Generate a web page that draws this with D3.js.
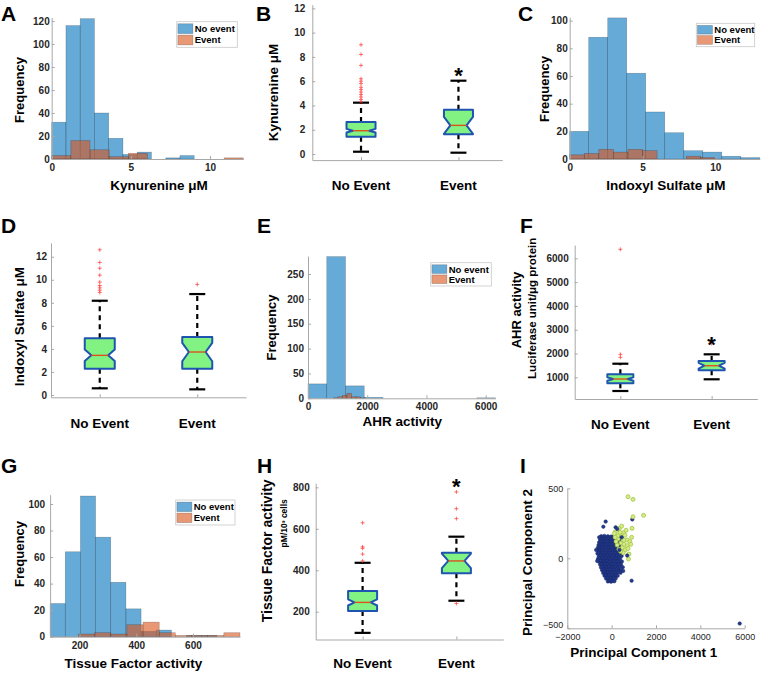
<!DOCTYPE html>
<html><head><meta charset="utf-8">
<script src="https://cdn.jsdelivr.net/npm/d3@7"></script>
<style>body{margin:0;background:#fff}svg{display:block}text{font-family:"Liberation Sans",Arial,sans-serif}</style>
</head><body><svg id="c" width="762" height="673"></svg>
<script>
// ---------------- DATA ----------------
const groups = ["No Event", "Event"];
const legendLabels = ["No event", "Event"];

// A: Kynurenine histogram
const kynNoEdges = [0,0.9,1.8,2.7,3.6,4.5,5.4,6.3,7.2,8.1,9.0];
const kynNoCounts = [32,116,122,40,18,4,6,0,1,3];
const kynEvEdges = [0,1.21,2.42,3.63,4.84,6.05,7.26,8.47,9.68,10.89,12.1];
const kynEvCounts = [3,16,8,2,5,0,0,0,0,1];
const kynXTicks = [0,5,10];
const kynYTicks = [0,20,40,60,80,100,120];

// C: Indoxyl sulfate histogram
const isNoEdges = [0,1.305,2.61,3.915,5.22,6.525,7.83,9.135,10.44,11.745,13.05];
const isNoCounts = [20,88,102,62,34,19,6,5,2,1];
const isEvEdges = [0,1,2,3,4,5,6,7,8,9,10];
const isEvCounts = [3,4,7,5,7,6,0,0,2,1];
const isXTicks = [0,5,10];
const isYTicks = [0,20,40,60,80,100];

// E: AHR histogram
const ahrNoEdges = [0,633,1266,1899,2532,3165,3798,4431,5064,5697,6330];
const ahrNoCounts = [29,285,25,2,0,0,0,0,0,1];
const ahrEvEdges = [855,1008,1161,1314,1467,1620,1773,1926];
const ahrEvCounts = [1,3,6,10,3,3,1];
const ahrXTicks = [0,2000,4000,6000];
const ahrYTicks = [0,50,100,150,200,250];

// G: Tissue factor histogram
const tfNoEdges = [96,149.5,203,256.5,310,363.5,417,470.5,524,577.5,631,684.5,738];
const tfNoCounts = [25,64,106,75,41,21,4,5,0,1,1,0];
const tfEvEdges = [196,253,310,367,424,481,538,595,652,709,766];
const tfEvCounts = [2,3,2,9,11,3,1,1,1,3];
const tfXTicks = [200,400,600];
const tfYTicks = [0,20,40,60,80,100];

// B: Kynurenine box stats [lowWhisker, Q1, median, Q3, highWhisker, notchHalf]
const kynBoxNo = [0.19,1.43,1.92,2.64,4.23,0.15];
const kynBoxEv = [0.11,1.62,2.36,3.65,6.04,0.7];
const kynOutNo = [4.3,4.5,4.7,4.9,5.1,5.3,5.5,5.8,6.0,6.2,7.3,8.2,9.0];
const kynOutEv = [];
const kynStar = 6.86;
const kynBoxTicks = [0,2,4,6,8,10,12];

// D: Indoxyl sulfate box stats
const isBoxNo = [0.58,2.28,3.44,4.92,8.18,0.5];
const isBoxEv = [0.49,2.28,3.73,5.03,8.76,0.8];
const isOutNo = [8.9,9.1,9.3,9.5,9.8,10.4,11.0,11.5,12.6];
const isOutEv = [9.6];
const isBoxTicks = [0,2,4,6,8,10,12];

// F: AHR box stats
const ahrBoxNo = [424,748,928,1126,1571,70];
const ahrBoxEv = [916,1294,1487,1685,1966,120];
const ahrOutNo = [1840,1966,6378];
const ahrOutEv = [2420];
const ahrStar = 2570;
const ahrBoxTicks = [1000,2000,3000,4000,5000,6000];

// H: Tissue factor box stats
const tfBoxNo = [98,203,245,300,436,15];
const tfBoxEv = [253,385,445,485,562,35];
const tfOutNo = [445,478,506,513,629];
const tfOutEv = [240,649,697,778];
const tfStar = 827;
const tfBoxTicks = [200,400,600,800];

// I: PCA scatter
const pcaNoEvent = [
[-470,158],[-400,152],[-330,160],[-250,150],[-170,157],[-90,148],[-20,155],[60,150],
[-520,136],[-440,140],[-370,132],[-300,142],[-220,134],[-150,139],[-70,130],[10,137],[90,133],[170,140],[260,128],
[-560,115],[-490,120],[-420,112],[-340,119],[-270,114],[-200,121],[-120,110],[-50,117],[30,113],[110,120],[190,112],[300,116],[400,110],
[-590,95],[-510,100],[-440,93],[-370,99],[-300,94],[-230,101],[-160,92],[-80,98],[0,95],[80,101],[160,93],[240,97],[330,92],
[-620,75],[-540,80],[-460,73],[-390,79],[-320,74],[-250,81],[-170,72],[-100,78],[-30,75],[50,80],[130,73],[210,79],[300,74],[390,77],
[-600,55],[-520,60],[-450,53],[-380,59],[-300,54],[-230,61],[-160,52],[-90,58],[-20,55],[60,60],[140,53],[220,59],[310,54],
[-640,35],[-560,40],[-480,33],[-410,39],[-340,34],[-260,41],[-190,32],[-120,38],[-50,35],[30,40],[110,33],[190,39],[270,34],[360,37],
[-580,15],[-500,20],[-430,13],[-350,19],[-280,14],[-210,21],[-140,12],[-60,18],[10,15],[90,20],[170,13],[250,19],[340,14],[450,17],
[-620,-5],[-540,0],[-460,-7],[-390,-1],[-310,-6],[-240,1],[-170,-8],[-90,-2],[-20,-5],[60,0],[140,-7],[220,-1],[300,-6],[380,-3],
[-560,-25],[-480,-20],[-410,-27],[-340,-21],[-270,-26],[-190,-19],[-120,-28],[-50,-22],[30,-25],[110,-20],[190,-27],[270,-21],[350,-26],[460,-23],
[-520,-45],[-440,-40],[-370,-47],[-300,-41],[-220,-46],[-150,-39],[-80,-48],[0,-42],[80,-45],[160,-40],[240,-47],[330,-41],[420,-44],
[-480,-65],[-400,-60],[-330,-67],[-260,-61],[-190,-66],[-110,-59],[-40,-68],[40,-62],[120,-65],[200,-60],[290,-67],[380,-61],[500,-64],
[-430,-85],[-360,-80],[-290,-87],[-220,-81],[-150,-86],[-80,-79],[0,-88],[80,-82],[160,-85],[240,-80],[330,-87],[430,-83],
[-380,-105],[-310,-100],[-240,-107],[-170,-101],[-100,-106],[-30,-99],[50,-108],[130,-102],[210,-105],[300,-100],[400,-104],
[-320,-125],[-250,-120],[-180,-127],[-110,-121],[-40,-126],[30,-119],[110,-128],[190,-122],[270,-125],
[-250,-145],[-180,-140],[-110,-147],[-40,-141],[30,-146],[100,-139],[180,-144],
[-170,-165],[-100,-160],[-30,-167],[40,-161],[120,-164],
[-700,60],[-650,-20],[520,-90],[470,40],[-560,150],[350,130],
[-270,262],[-375,226],[180,221],[930,278],[900,-160],[5775,-466]
];
const pcaEvent = [
[738,440],[963,421],[1440,307],[963,297],[918,214],[347,214],[167,190],[540,183],[122,178],[437,154],
[693,131],[600,165],[300,140],[820,120],[420,110],[560,100],[250,95],[700,90],[480,75],[620,60],
[330,65],[780,30],[520,40],[760,-5],[900,150],[380,185],[200,120],[650,200],[450,230],[280,160],
[550,130],[740,70],[400,50],[860,100],[160,150]
];
const pcaNoEventTop = [[450,150],[700,20],[350,60],[250,210]];
const pcaXTicks = [-2000,0,2000,4000,6000];
const pcaYTicks = [-500,0,500];

// ---------------- DRAWING ----------------
const svg = d3.select('#c');
const BLUE = '#0072BD', ORANGE = '#D95319';
const AXIS = '#a8a8a8', TICKTXT = '#262626';
const FONT = '"Liberation Sans",Arial,sans-serif';
const fmt = d3.format('d');

function styleAxis(g, size, weight){
  g.select('.domain').attr('stroke', AXIS);
  g.selectAll('.tick line').attr('stroke', AXIS);
  g.selectAll('.tick text').attr('fill', TICKTXT).attr('font-size', size).attr('font-weight', weight).attr('font-family', FONT);
}

function text(t, x, y, size, opts={}){
  return svg.append('text').attr('x', x).attr('y', y).text(t)
    .attr('font-size', size).attr('font-weight', opts.weight || 'bold')
    .attr('fill', opts.fill || '#000').attr('text-anchor', opts.anchor || 'middle');
}
function vtext(t, x, y, size, weight='bold'){
  svg.append('text').attr('transform', `translate(${x},${y}) rotate(-90)`)
    .attr('text-anchor', 'middle').attr('font-size', size).attr('font-weight', weight).attr('fill', '#000').text(t);
}

function legend(x0, y0, w, h){
  const g = svg.append('g');
  g.append('rect').attr('x', x0).attr('y', y0).attr('width', w).attr('height', h)
    .attr('fill', '#fff').attr('stroke', '#c8c8c8').attr('stroke-width', 0.8);
  [BLUE, ORANGE].forEach((c, i) => {
    const yy = y0 + 1.5 + i * (h - 3) / 2;
    const rh = (h - 3) / 2 - 1.5;
    g.append('rect').attr('x', x0 + 1.2).attr('y', yy + 0.6).attr('width', 15).attr('height', rh)
      .attr('fill', c).attr('fill-opacity', 0.6).attr('stroke', '#333').attr('stroke-opacity', 0.4).attr('stroke-width', 0.6);
    g.append('text').attr('x', x0 + 18).attr('y', yy + rh / 2 + 4).attr('font-size', 9.5).attr('font-weight', 'bold')
      .attr('fill', '#000').text(legendLabels[i]);
  });
}

function hist(o){
  const x = d3.scaleLinear().domain(o.xd).range(o.xr);
  const y = d3.scaleLinear().domain(o.yd).range(o.yr);
  const g = svg.append('g');
  o.series.forEach(s => {
    const bins = s.counts.map((c, i) => ({x0: s.edges[i], x1: s.edges[i + 1], c})).filter(d => d.c > 0);
    g.selectAll(null).data(bins).join('rect')
      .attr('x', d => x(d.x0)).attr('width', d => x(d.x1) - x(d.x0))
      .attr('y', d => y(d.c)).attr('height', d => y(0) - y(d.c))
      .attr('fill', s.color).attr('fill-opacity', 0.6)
      .attr('stroke', '#000').attr('stroke-opacity', 0.28).attr('stroke-width', 0.6);
  });
  const ax = svg.append('g').attr('transform', `translate(0,${o.yr[0]})`)
    .call(d3.axisBottom(x).tickValues(o.xticks).tickFormat(fmt).tickSizeInner(-3).tickSizeOuter(0).tickPadding(o.xpad));
  styleAxis(ax, 10, 'bold');
  const ay = svg.append('g').attr('transform', `translate(${o.xr[0]},0)`)
    .call(d3.axisLeft(y).tickValues(o.yticks).tickFormat(fmt).tickSizeInner(-3).tickSizeOuter(0).tickPadding(o.ypad));
  styleAxis(ay, 10, 'bold');
  legend(...o.legend);
}

function plus(g, cx, cy){
  g.append('path').attr('d', `M${cx-2},${cy}H${cx+2}M${cx},${cy-2}V${cy+2}`)
    .attr('stroke', '#ff3b3b').attr('stroke-width', 0.9).attr('stroke-opacity', 0.8);
}

function boxplot(o){
  const x = d3.scaleLinear().domain(o.xd).range(o.xr);
  const y = d3.scaleLinear().domain(o.yd).range(o.yr);
  const ay = svg.append('g').attr('transform', `translate(${o.xr[0]},0)`)
    .call(d3.axisLeft(y).tickValues(o.yticks).tickFormat(fmt).tickSizeInner(-3).tickSizeOuter(0).tickPadding(o.ypad));
  styleAxis(ay, 10, 'bold');
  const ax = svg.append('g').attr('transform', `translate(0,${o.yr[0]})`)
    .call(d3.axisBottom(x).tickValues([1, 2]).tickFormat('').tickSizeInner(-3).tickSizeOuter(0));
  styleAxis(ax, 10, 'bold');
  const g = svg.append('g');
  const w = o.bw, cw = 16, ins = w * 0.22;
  o.stats.forEach((s, i) => {
    const [lo, q1, med, q3, hi, nh] = s;
    const cx = x(i + 1);
    const L = cx - w / 2, R = cx + w / 2;
    [[q3, hi], [q1, lo]].forEach(([a, b]) => {
      g.append('line').attr('x1', cx).attr('x2', cx).attr('y1', y(a)).attr('y2', y(b))
        .attr('stroke', '#000').attr('stroke-width', 2.2).attr('stroke-dasharray', '5,4');
      g.append('line').attr('x1', cx - cw / 2).attr('x2', cx + cw / 2).attr('y1', y(b)).attr('y2', y(b))
        .attr('stroke', '#000').attr('stroke-width', 2.2);
    });
    const d = `M${L},${y(q3)}H${R}V${y(med + nh)}L${R - ins},${y(med)}L${R},${y(med - nh)}V${y(q1)}H${L}V${y(med - nh)}L${L + ins},${y(med)}L${L},${y(med + nh)}Z`;
    g.append('path').attr('d', d).attr('fill', '#82f282').attr('stroke', '#1f55b0').attr('stroke-width', 2).attr('stroke-linejoin', 'round');
    g.append('line').attr('x1', L + ins).attr('x2', R - ins).attr('y1', y(med)).attr('y2', y(med))
      .attr('stroke', '#d9541e').attr('stroke-width', 1.4);
    o.outliers[i].forEach(v => plus(g, cx, y(v)));
    text(groups[i], cx, o.catY, 13.5);
  });
  if (o.star != null) text('*', x(2), y(o.star) + 12.5, 22);
}

// Panel letters
[['A',1,21],['B',256,21],['C',518,21],['D',1,233],['E',257,233],['F',520,233],['G',1,473],['H',257,473],['I',520,473]]
  .forEach(([t, x, y]) => text(t, x, y, 21, {anchor: 'start'}));

// A
hist({xd:[0,12.1], xr:[51.7,243.3], yd:[0,123], yr:[159,17.5], xticks:kynXTicks, yticks:kynYTicks, xpad:5, ypad:2,
  series:[{edges:kynNoEdges, counts:kynNoCounts, color:BLUE},{edges:kynEvEdges, counts:kynEvCounts, color:ORANGE}],
  legend:[176.7,21.7,60.6,25.6]});
vtext('Frequency', 24, 90, 13);
text('Kynurenine μM', 159, 189.5, 13.5);

// C
hist({xd:[0,13.05], xr:[569.7,759.8], yd:[0,102.5], yr:[159,17.2], xticks:isXTicks, yticks:isYTicks, xpad:5, ypad:2,
  series:[{edges:isNoEdges, counts:isNoCounts, color:BLUE},{edges:isEvEdges, counts:isEvCounts, color:ORANGE}],
  legend:[696.3,23.3,58.4,23.4]});
vtext('Frequency', 548.5, 89, 13);
text('Indoxyl Sulfate μM', 665.8, 189.5, 13.5);

// E
hist({xd:[0,6330], xr:[308,495.5], yd:[0,286], yr:[398.3,256.1], xticks:ahrXTicks, yticks:ahrYTicks, xpad:5, ypad:4,
  series:[{edges:ahrNoEdges, counts:ahrNoCounts, color:BLUE},{edges:ahrEvEdges, counts:ahrEvCounts, color:ORANGE}],
  legend:[430.7,262.7,60.6,23.3]});
vtext('Frequency', 275.5, 327.5, 13);
text('AHR activity', 402.3, 426, 13.5);

// G
hist({xd:[96,766], xr:[50.1,240], yd:[0,107], yr:[636.7,494.7], xticks:tfXTicks, yticks:tfYTicks, xpad:5, ypad:5,
  series:[{edges:tfNoEdges, counts:tfNoCounts, color:BLUE},{edges:tfEvEdges, counts:tfEvCounts, color:ORANGE}],
  legend:[175.7,500,59.3,25]});
vtext('Frequency', 24, 554, 13);
text('Tissue Factor activity', 133.3, 668, 13.5);

// B
boxplot({xd:[0.5,2.45], xr:[312.3,502.3], yd:[-0.5,12.3], yr:[160.1,4.7], yticks:kynBoxTicks, ypad:7, bw:29,
  stats:[kynBoxNo, kynBoxEv], outliers:[kynOutNo, kynOutEv], star:kynStar, catY:190});
vtext('Kynurenine μM', 278, 92.5, 13.5);

// D
boxplot({xd:[0.5,2.5], xr:[51,246], yd:[-0.2,13.2], yr:[397.3,242.9], yticks:isBoxTicks, ypad:4, bw:30,
  stats:[isBoxNo, isBoxEv], outliers:[isOutNo, isOutEv], star:null, catY:428});
vtext('Indoxyl Sulfate μM', 24, 326.7, 13.5);

// F
boxplot({xd:[0.5,2.5], xr:[574.7,757.3], yd:[88,6560], yr:[399,245], yticks:ahrBoxTicks, ypad:6, bw:26,
  stats:[ahrBoxNo, ahrBoxEv], outliers:[ahrOutNo, ahrOutEv], star:ahrStar, catY:429});
vtext('AHR activity', 521, 310, 13);
vtext('Luciferase  unit/μg protein', 535.5, 308.3, 11.5);

// H
boxplot({xd:[0.5,2.5], xr:[315.7,503.3], yd:[66,820], yr:[639.5,483.2], yticks:tfBoxTicks, ypad:6, bw:29,
  stats:[tfBoxNo, tfBoxEv], outliers:[tfOutNo, tfOutEv], star:tfStar, catY:668});
vtext('Tissue Factor activity', 272, 550.8, 14);
vtext('pM/10³ cells', 287, 523.3, 8.5);

// I scatter
(function(){
  const x = d3.scaleLinear().domain([-2000,6000]).range([567.3,744.7]);
  const y = d3.scaleLinear().domain([-500,500]).range([628.3,488.3]);
  const ax = svg.append('g').attr('transform', `translate(0,628.3)`)
    .call(d3.axisBottom(x).tickValues(pcaXTicks).tickFormat(fmt).tickSizeInner(-3).tickSizeOuter(0).tickPadding(5));
  styleAxis(ax, 9, 'normal');
  const ay = svg.append('g').attr('transform', `translate(567.3,0)`)
    .call(d3.axisLeft(y).tickValues(pcaYTicks).tickFormat(fmt).tickSizeInner(-3).tickSizeOuter(0).tickPadding(4));
  styleAxis(ay, 9, 'normal');
  ay.selectAll('.tick text').filter(d => d === -500).attr('dy', '-0.05em');
  const g = svg.append('g');
  const navy = sel => sel.attr('cx', d => x(d[0])).attr('cy', d => y(d[1])).attr('r', 1.75)
      .attr('fill', '#24398a').attr('stroke', '#17286a').attr('stroke-width', 0.5);
  g.selectAll(null).data(pcaNoEvent).join('circle').call(navy);
  g.selectAll(null).data(pcaEvent).join('circle')
    .attr('cx', d => x(d[0])).attr('cy', d => y(d[1])).attr('r', 2)
    .attr('fill', '#d6ea8c').attr('stroke', '#a3c83c').attr('stroke-width', 0.8);
  g.selectAll(null).data(pcaNoEventTop).join('circle').call(navy);
  vtext('Principal Component 2', 532, 562.5, 13.5);
  text('Principal Component 1', 643.8, 656.5, 13.5);
})();
</script></body></html>
